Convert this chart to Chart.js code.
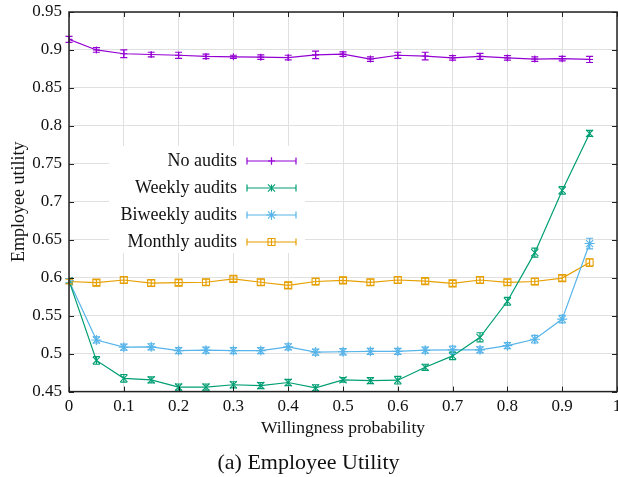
<!DOCTYPE html>
<html>
<head>
<meta charset="utf-8">
<script src="https://cdn.jsdelivr.net/npm/chart.js@4.4.1/dist/chart.umd.min.js"></script>
<style>
  html, body { margin: 0; padding: 0; background: #fff; overflow: hidden; }
  canvas { display: block; }
</style>
</head>
<body>
<canvas id="utilityChart" width="630" height="477"></canvas>
<script>
// willingness probability (x)
const probs = [0, 0.05, 0.1, 0.15, 0.2, 0.25, 0.3, 0.35, 0.4, 0.45,
               0.5, 0.55, 0.6, 0.65, 0.7, 0.75, 0.8, 0.85, 0.9, 0.95];

const seriesNames = ["No audits", "Weekly audits", "Biweekly audits", "Monthly audits"];

const noAudits = [0.914, 0.900, 0.895, 0.894, 0.893, 0.8915, 0.891, 0.8905, 0.890, 0.8935,
                  0.8945, 0.888, 0.893, 0.892, 0.8895, 0.8915, 0.8895, 0.888, 0.8885, 0.8875];
const noAuditsErr = [0.004, 0.003, 0.005, 0.003, 0.004, 0.003, 0.002, 0.003, 0.003, 0.005,
                     0.003, 0.003, 0.004, 0.005, 0.003, 0.004, 0.003, 0.003, 0.003, 0.004];

const weekly = [0.596, 0.491, 0.4675, 0.4655, 0.456, 0.456, 0.459, 0.458, 0.462, 0.455,
                0.4655, 0.4645, 0.465, 0.482, 0.497, 0.5215, 0.569, 0.633, 0.715, 0.790];
const weeklyErr = [0.003, 0.005, 0.005, 0.004, 0.004, 0.004, 0.004, 0.004, 0.004, 0.004,
                   0.003, 0.004, 0.005, 0.004, 0.005, 0.006, 0.005, 0.006, 0.005, 0.004];

const biweekly = [0.596, 0.518, 0.5085, 0.509, 0.504, 0.5045, 0.504, 0.504, 0.509, 0.502,
                  0.5025, 0.503, 0.503, 0.5045, 0.505, 0.505, 0.5105, 0.519, 0.5455, 0.645];
const biweeklyErr = [0.003, 0.004, 0.004, 0.004, 0.004, 0.004, 0.004, 0.004, 0.004, 0.004,
                     0.004, 0.004, 0.004, 0.004, 0.005, 0.004, 0.004, 0.005, 0.005, 0.007];

const monthly = [0.595, 0.5935, 0.597, 0.593, 0.5935, 0.594, 0.5985, 0.594, 0.590, 0.595,
                 0.5965, 0.594, 0.597, 0.5955, 0.5925, 0.597, 0.594, 0.595, 0.5995, 0.620];
const monthlyErr = [0.003, 0.004, 0.004, 0.004, 0.004, 0.004, 0.004, 0.004, 0.004, 0.004,
                    0.004, 0.004, 0.004, 0.004, 0.004, 0.004, 0.004, 0.004, 0.004, 0.005];

const colors = ["#9400d3", "#009e73", "#56b4e9", "#e69f00"];
const markers = ["cross", "crossRot", "star", "rect"];

const serif = '"Liberation Serif", "DejaVu Serif", serif';

function makeSet(i, values, errs) {
  return {
    label: seriesNames[i],
    data: probs.map((p, k) => ({ x: p, y: values[k] })),
    errors: errs,
    borderColor: colors[i],
    backgroundColor: colors[i],
    pointBorderColor: colors[i],
    pointBackgroundColor: "rgba(0,0,0,0)",
    pointStyle: markers[i],
    pointRadius: i == 0 ? 3.5 : 5,
    pointBorderWidth: 1.1,
    borderWidth: 1.2,
    tension: 0
  };
}

// gnuplot-style error bars with caps
const errorBars = {
  id: "errorBars",
  afterDatasetsDraw(chart) {
    const ctx = chart.ctx, xs = chart.scales.x, ys = chart.scales.y;
    chart.data.datasets.forEach(ds => {
      ctx.save();
      ctx.strokeStyle = ds.borderColor;
      ctx.lineWidth = 1.2;
      ds.data.forEach((pt, k) => {
        const e = ds.errors[k];
        const px = xs.getPixelForValue(pt.x);
        const y1 = ys.getPixelForValue(pt.y - e), y2 = ys.getPixelForValue(pt.y + e);
        ctx.beginPath();
        ctx.moveTo(px, y1); ctx.lineTo(px, y2);
        ctx.moveTo(px - 3.5, y1); ctx.lineTo(px + 3.5, y1);
        ctx.moveTo(px - 3.5, y2); ctx.lineTo(px + 3.5, y2);
        ctx.stroke();
      });
      ctx.restore();
    });
  }
};

// box around plot + inward tick marks on all four sides
const frame = {
  id: "frame",
  afterDraw(chart) {
    const ctx = chart.ctx, a = chart.chartArea;
    const xs = chart.scales.x, ys = chart.scales.y;
    ctx.save();
    ctx.strokeStyle = "#222";
    ctx.lineWidth = 1;
    ctx.beginPath();
    xs.ticks.forEach(t => {
      const px = Math.round(xs.getPixelForValue(t.value)) + 0.5;
      ctx.moveTo(px, a.top); ctx.lineTo(px, a.top + 5);
      ctx.moveTo(px, a.bottom); ctx.lineTo(px, a.bottom - 5);
    });
    ys.ticks.forEach(t => {
      const py = Math.round(ys.getPixelForValue(t.value)) + 0.5;
      ctx.moveTo(a.left, py); ctx.lineTo(a.left + 5, py);
      ctx.moveTo(a.right, py); ctx.lineTo(a.right - 5, py);
    });
    ctx.stroke();
    ctx.lineWidth = 1.5;
    ctx.strokeRect(a.left, a.top, a.right - a.left, a.bottom - a.top);
    ctx.restore();
  }
};

// legend inside the plot: right-aligned text, sample line with caps on the right
const keyBox = {
  id: "keyBox",
  afterDatasetsDraw(chart) {
    const ctx = chart.ctx, a = chart.chartArea;
    const left = a.left + 40, top = a.top + 134;
    ctx.save();
    ctx.fillStyle = "#fff";
    ctx.fillRect(left, top, 196, 107);
    ctx.font = "18px " + serif;
    ctx.textAlign = "right";
    ctx.textBaseline = "middle";
    chart.data.datasets.forEach((ds, i) => {
      const y = top + 15 + i * 27;
      ctx.fillStyle = "#111";
      ctx.fillText(ds.label, left + 128, y);
      const x1 = left + 138, x2 = left + 187, xm = (x1 + x2) / 2;
      ctx.strokeStyle = ds.borderColor;
      ctx.lineWidth = 1.2;
      ctx.beginPath();
      ctx.moveTo(x1, y); ctx.lineTo(x2, y);
      ctx.moveTo(x1, y - 3.5); ctx.lineTo(x1, y + 3.5);
      ctx.moveTo(x2, y - 3.5); ctx.lineTo(x2, y + 3.5);
      ctx.moveTo(xm, y - 3.5); ctx.lineTo(xm, y + 3.5);
      ctx.stroke();
      ctx.fillStyle = "rgba(0,0,0,0)";
      ctx.lineWidth = 1.1;
      Chart.helpers.drawPoint(ctx, {
        pointStyle: ds.pointStyle, radius: ds.pointRadius, rotation: 0, borderWidth: 1.1
      }, xm, y);
    });
    ctx.restore();
  }
};

const trim = v => String(+Number(v).toFixed(2));

new Chart(document.getElementById("utilityChart"), {
  type: "line",
  data: {
    datasets: [
      makeSet(0, noAudits, noAuditsErr),
      makeSet(1, weekly, weeklyErr),
      makeSet(2, biweekly, biweeklyErr),
      makeSet(3, monthly, monthlyErr)
    ]
  },
  options: {
    responsive: false,
    animation: false,
    layout: { padding: { top: 12, right: 13, bottom: 1, left: 0 } },
    scales: {
      x: {
        type: "linear",
        min: 0, max: 1,
        afterFit(scale) { scale.height = 50; },
        ticks: { stepSize: 0.1, callback: trim, color: "#111", padding: 5, maxRotation: 0,
                 font: { family: serif, size: 17 } },
        grid: { color: "#e0e0e0", drawTicks: false },
        border: { display: false },
        title: { display: true, text: "Willingness probability", color: "#111",
                 font: { family: serif, size: 17.5 }, padding: { top: 0, bottom: 3 } }
      },
      y: {
        min: 0.45, max: 0.95,
        afterFit(scale) { scale.paddingTop = 0; scale.width = 69; },
        ticks: { stepSize: 0.05, callback: trim, color: "#111", padding: 7,
                 font: { family: serif, size: 17 } },
        grid: { color: "#e0e0e0", drawTicks: false },
        border: { display: false },
        title: { display: true, text: "Employee utility", color: "#111",
                 font: { family: serif, size: 18 }, padding: { top: 8, bottom: 2 } }
      }
    },
    plugins: {
      legend: { display: false },
      tooltip: { enabled: false },
      title: {
        display: true, position: "bottom", text: "(a) Employee Utility", color: "#111",
        font: { family: serif, size: 22, weight: "normal" }, padding: { top: 8, bottom: 0 }
      }
    }
  },
  plugins: [errorBars, keyBox, frame]
});
</script>
</body>
</html>
